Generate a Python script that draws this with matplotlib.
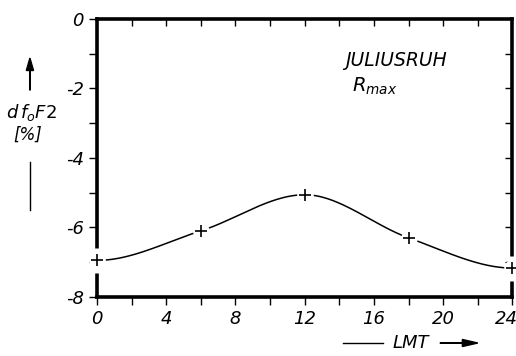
import numpy as np
import matplotlib
matplotlib.use("Agg")
import matplotlib.pyplot as plt
from matplotlib.patches import FancyArrow
from matplotlib.ticker import MultipleLocator
from matplotlib.transforms import ScaledTranslation

# data
hours = [0, 6, 12, 18, 24]
dfof2 = [-6.95, -6.1, -5.06, -6.3, -7.17]
slopes = [0.0, 0.1575, 0.0, -0.176, 0.0]   # flat ends, like the drawn curve

# smooth curve through the points (cubic hermite)
xs, ys = [], []
for i in range(len(hours) - 1):
    x0, x1 = hours[i], hours[i + 1]
    h = x1 - x0
    t = np.linspace(0, 1, 60)
    h00 = 2 * t**3 - 3 * t**2 + 1
    h10 = t**3 - 2 * t**2 + t
    h01 = -2 * t**3 + 3 * t**2
    h11 = t**3 - t**2
    xs.append(x0 + t * h)
    ys.append(h00 * dfof2[i] + h10 * h * slopes[i] + h01 * dfof2[i + 1] + h11 * h * slopes[i + 1])
xs = np.concatenate(xs)
ys = np.concatenate(ys)

plt.rcParams['font.family'] = ['DejaVu Sans']
plt.rcParams['axes.unicode_minus'] = False
fig = plt.figure(figsize=(5.16, 3.56), dpi=100)
ax = fig.add_axes([0.188, 0.166, 0.805, 0.781])

ax.plot(xs, ys, color='black', lw=1.1, zorder=3)
# white patches give the little gaps in the line and in the frame
ax.plot(hours, dfof2, 'o', ms=12, color='white', mec='none', zorder=4, clip_on=False)
ax.plot([hours[0], hours[-1]], [dfof2[0], dfof2[-1]], '|', ms=18, mew=5,
        color='white', zorder=4, clip_on=False)
ax.plot(hours, dfof2, '+', ms=9, mew=1.2, color='black', zorder=5, clip_on=False)

ax.set_xlim(0, 24)
ax.set_ylim(-8, 0)
for s in ax.spines.values():
    s.set_linewidth(2.6)

ax.xaxis.set_major_locator(MultipleLocator(4))
ax.xaxis.set_minor_locator(MultipleLocator(2))
ax.yaxis.set_major_locator(MultipleLocator(2))
ax.yaxis.set_minor_locator(MultipleLocator(1))
ax.tick_params(which='both', direction='out', width=1, length=6,
               top=False, right=False, labelsize=13)

# inward ticks on top and right edges
sec_x = ax.secondary_xaxis('top')
sec_x.set_xticks(np.arange(2, 24, 2))
sec_x.tick_params(direction='in', length=5, width=1, labeltop=False)
sec_x.spines['top'].set_visible(False)
sec_y = ax.secondary_yaxis('right')
sec_y.set_yticks(np.arange(-7, 0, 1))
sec_y.tick_params(direction='in', length=5, width=1, labelright=False)
sec_y.spines['right'].set_visible(False)

fig.canvas.draw()
for lab in ax.get_xticklabels() + ax.get_yticklabels():
    lab.set_style('italic')
# last hour label sits at the right edge, pull it in a little
last = [lab for lab in ax.get_xticklabels() if lab.get_text() == '24']
for lab in last:
    lab.set_transform(lab.get_transform() + ScaledTranslation(-0.06, 0, fig.dpi_scale_trans))

ax.text(0.72, 0.83, 'JULIUSRUH', transform=ax.transAxes, ha='center',
        fontsize=13.5, style='italic')
ax.text(0.614, 0.737, r'$\mathit{R_{max}}$', transform=ax.transAxes, ha='left',
        fontsize=14)

# y label with arrow
fig.text(0.062, 0.685, r'$d\,f_o F2$', ha='center', va='center', fontsize=13)
fig.text(0.054, 0.621, '[%]', ha='center', va='center', fontsize=12, style='italic')
fig.add_artist(plt.Line2D([0.058, 0.058], [0.41, 0.545], color='black', lw=1,
                          transform=fig.transFigure))
fig.patches.append(FancyArrow(0.058, 0.747, 0, 0.09, width=0.001,
                   head_width=0.014, head_length=0.035, color='black',
                   transform=fig.transFigure, length_includes_head=True))

# x label with arrow
fig.text(0.797, 0.0365, 'LMT', ha='center', va='center', fontsize=13, style='italic')
fig.add_artist(plt.Line2D([0.665, 0.742], [0.0365, 0.0365], color='black', lw=1,
                          transform=fig.transFigure))
fig.patches.append(FancyArrow(0.853, 0.0365, 0.073, 0, width=0.001,
                   head_width=0.02, head_length=0.03, color='black',
                   transform=fig.transFigure, length_includes_head=True))

fig.savefig('out.png', dpi=100)
